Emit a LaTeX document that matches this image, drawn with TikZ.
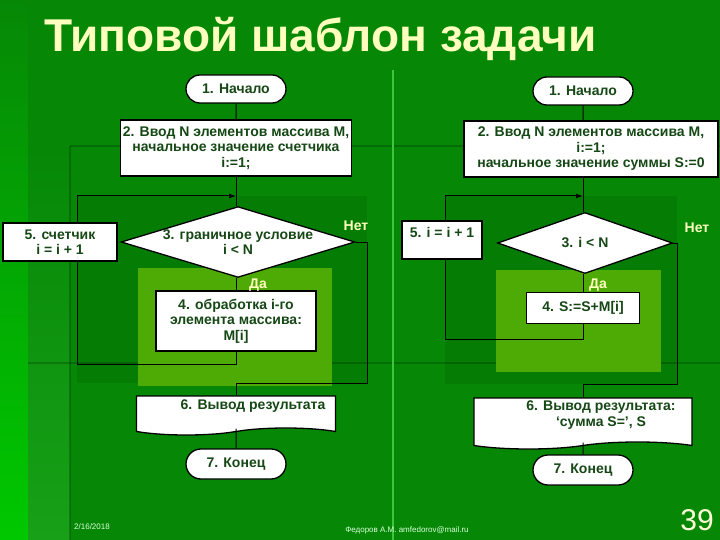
\documentclass[tikz,border=0pt]{standalone}
\usepackage{fontspec}
\setmainfont{Liberation Sans}
\usepackage{xcolor}
\usepackage{tikz}
\usetikzlibrary{shapes.geometric}
\usetikzlibrary{shapes.misc,shapes.symbols}
\usetikzlibrary{arrows.meta}
\definecolor{bggreen}{RGB}{6,136,6}
\definecolor{stripgreen}{RGB}{0,200,0}
\definecolor{sidegreen}{RGB}{24,160,24}
\definecolor{linegreen}{RGB}{60,200,60}
\definecolor{litegreen}{RGB}{78,170,4}
\definecolor{txtgreen}{RGB}{22,72,22}
\definecolor{paleyel}{RGB}{255,255,190}
\newcommand\blkfont{\fontsize{14}{15.5}\selectfont\bfseries}

\begin{document}
\begin{tikzpicture}[x=1pt,y=-1pt,
  box/.style={draw=black,line width=1.3pt,fill=white,text=txtgreen,font=\blkfont,align=center,inner sep=2pt},
  term/.style={box,rounded rectangle,minimum width=104pt,minimum height=28pt},
  cond/.style={box,diamond,inner sep=0pt},
  doc/.style={box,tape,tape bend top=none,tape bend bottom=in and out,tape bend height=7pt},
  note/.style={text=paleyel,font=\blkfont},
  foot/.style={text=white!85!green,font=\fontsize{8}{9}\selectfont},
  wire/.style={line width=1pt,black},
  ptr/.style={wire,-{Latex[length=7pt,width=5pt]}}
]
\useasboundingbox (0,0) rectangle (720,540);
% Slide background
\fill[bggreen] (0,0) rectangle (720,540);
\shade[top color=bggreen,bottom color=stripgreen] (0,0) rectangle (28,540);
\shade[top color=bggreen,bottom color=sidegreen] (28,146) rectangle (70,540);
\draw[black,opacity=.2,line width=2.5pt] (70,146) -- (720,146);
\draw[black,opacity=.2,line width=2.5pt] (70,146) -- (70,540);
\draw[black,opacity=.2,line width=2.5pt] (28,363) -- (720,363);
\draw[linegreen,line width=1.2pt] (393,70) -- (393,540);
\fill[black,opacity=.08] (77,196) rectangle (367,383);
\fill[black,opacity=.08] (445,196) rectangle (677,384);
\fill[litegreen] (138,268) rectangle (332,386);
\fill[litegreen] (496,270) rectangle (661,372);

% Title
\node[anchor=base west,text=paleyel,font=\fontsize{46}{50}\selectfont\bfseries,inner sep=0pt] (ttl) at (44,52) {Типовой шаблон задачи};

% Left scheme
\node[term] (s1) at (236,89) {1. Начало};
\node[box,minimum width=226pt,minimum height=56pt] (a2) at (236,148) {2. Ввод N элементов массива М,\\начальное значение счетчика\\i:=1;};
\node[cond,aspect=3.3,minimum width=225pt,minimum height=65pt] (a3) at (238,242) {3. граничное условие\\i < N};
\node[box,minimum width=160pt,minimum height=60pt] (a4) at (236,321) {4. обработка i-го\\элемента массива:\\M[i]};
\node[box,minimum width=114pt,minimum height=38pt] (a5) at (60,242) {5. счетчик\\i = i + 1};
\node[doc,minimum width=199pt,minimum height=39pt,
  label={[text=txtgreen,font=\blkfont,xshift=17pt,yshift=6pt]center:6. Вывод результата}] (a6) at (236,412) {};
\node[term,minimum height=30pt] (e1) at (236,464) {7. Конец};
\node[note] (n1) at (356,226) {Нет};
\node[note] (y1) at (258,285) {Да};
\coordinate (lb) at (77,364);
\coordinate (lj) at (236,196);
\coordinate (nc) at (367,383);

\draw[wire] (s1) -- (a2);
\draw[wire] (a2.south) -- (a2.south |- a3.north);
\draw[wire] (a4.north |- a3.south) -- (a4);
\draw[wire] (a4.south) |- (lb) -- (a5.south -| lb);
\draw[ptr] (a5.north -| lb) |- (lj);
\draw[wire] (a3.east) -| (nc) -| (a6.north);
\draw[wire] (a6.south) -- (e1);

% Right scheme
\node[term] (s2) at (583,91) {1. Начало};
\node[box,minimum width=254pt,minimum height=56pt] (b2) at (591,149) {2. Ввод N элементов массива М,\\i:=1;\\начальное значение суммы S:=0};
\node[cond,aspect=2.9,minimum width=175pt,minimum height=61pt] (b3) at (585,243) {3. i < N};
\node[box,minimum width=113pt,minimum height=31pt] (b4) at (583,308) {4. S:=S+M[i]};
\node[box,minimum width=80pt,minimum height=38pt,text depth=15pt] (b5) at (442,240) {5. i = i + 1};
\node[doc,minimum width=218pt,minimum height=51pt,
  label={[text=txtgreen,font=\blkfont,align=center,xshift=18pt,yshift=5pt]center:6. Вывод результата:\\‘сумма S=’, S}] (b6) at (583,420) {};
\node[term,minimum height=30pt] (e2) at (583,470) {7. Конец};
\node[note] (n2) at (697,228) {Нет};
\node[note] (y2) at (598,285) {Да};
\coordinate (rb) at (445,339);
\coordinate (rj) at (583,196);
\coordinate (rc) at (677,384);

\draw[wire] (s2) -- (s2 |- b2.north);
\draw[wire] (s2 |- b2.south) -- (s2 |- b3.north);
\draw[wire] (b4.north |- b3.south) -- (b4);
\draw[wire] (b4.south) |- (rb) -- (b5.south -| rb);
\draw[ptr] (b5.north -| rb) |- (rj);
\draw[wire] (b3.east) -| (rc) -| (b6.north);
\draw[wire] (b6.south) -- (e2);

% Footer
\node[foot] (dt) at (92,527) {2/16/2018};
\node[foot] (au) at (407,530) {Федоров А.М. amfedorov@mail.ru};
\node[text=paleyel!60!white,font=\fontsize{30}{32}\selectfont] (pg) at (697,520) {39};
\end{tikzpicture}
\end{document}
